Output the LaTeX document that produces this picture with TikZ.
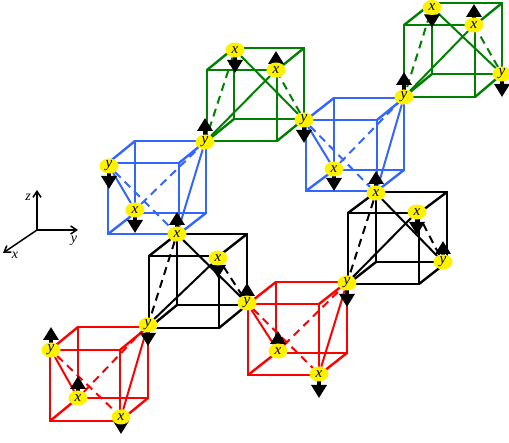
\documentclass[tikz,border=0pt]{standalone}
\usepackage{fontspec}
\setmainfont{Liberation Serif}
\usetikzlibrary{arrows.meta,backgrounds,shapes.geometric}
\definecolor{mygreen}{RGB}{0,128,0}
\definecolor{myblue}{RGB}{51,102,255}
\tikzset{
  site/.style={ellipse,fill=yellow,inner sep=0pt,minimum width=19pt,minimum height=15pt,font=\itshape\fontsize{15}{15}\selectfont},
  frameedge/.style={line width=2.4pt,line join=round,line cap=round},
  edge/.style={line width=2.0pt,line join=round},
  dashededge/.style={line width=2.0pt,dash pattern=on 8pt off 5.5pt},
  spin/.style={line width=3.6pt,black,-{Triangle[width=15pt,length=13pt]}},
  axis/.style={line width=1.5pt,black,-{Straight Barb[length=6pt,width=8pt]}},
  axlabel/.style={font=\itshape\fontsize{14}{14}\selectfont,inner sep=0pt}
}
% front x1 y1 x2 y2, back x1 y1 x2 y2
\newcommand{\cubeframe}[9]{%
  \draw[frameedge,#1] (#2,#3) -- (#4,#3) -- (#4,#5) -- (#2,#5) -- cycle;
  \draw[frameedge,#1] (#6,#7) -- (#8,#7) -- (#8,#9) -- (#6,#9) -- cycle;
  \draw[frameedge,#1] (#2,#3) -- (#6,#7);
  \draw[frameedge,#1] (#4,#3) -- (#8,#7);
  \draw[frameedge,#1] (#2,#5) -- (#6,#9);
  \draw[frameedge,#1] (#4,#5) -- (#8,#9);
}
\newcommand{\tetra}[5]{%
  \draw[edge,#1] (#2) -- (#3);
  \draw[dashededge,#1] (#2) -- (#4);
  \draw[edge,#1] (#4) -- (#5);
  \draw[dashededge,#1] (#3) -- (#5);
}
\newcommand{\spinup}[2]{\draw[spin] (#1.center) -- ++(0,-#2);}
\newcommand{\spindown}[2]{\draw[spin] (#1.center) -- ++(0,#2);}
\begin{document}
\begin{tikzpicture}[x=1pt,y=-1pt]
\useasboundingbox (0,0) rectangle (509,443);
% axes
\coordinate (o) at (37,230);
\node[axlabel] (lz) at (28,197) {z};
\node[axlabel] (ly) at (74,241) {y};
\node[axlabel] (lx) at (15,255) {x};
\coordinate (ze) at (37,190);
\coordinate (ye) at (78,230);
\coordinate (xe) at (3,253);
\draw[axis] (o) -- (ze);
\draw[axis] (o) -- (ye);
\draw[axis] (o) -- (xe);
% sites
\node[site] (r1a) at (51,350) {y};
\node[site] (r1b) at (78,398) {x};
\node[site] (r1c) at (121,417) {x};
\node[site] (s1) at (148,325) {y};
\node[site] (k1b) at (177,234) {x};
\node[site] (k1c) at (218,258) {x};
\node[site] (s2) at (247,303) {y};
\node[site] (r2b) at (278,351) {x};
\node[site] (r2c) at (319,374) {x};
\node[site] (s3) at (347,283) {y};
\node[site] (k2b) at (376,193) {x};
\node[site] (k2c) at (417,212) {x};
\node[site] (k2a) at (443,262) {y};
\node[site] (b1a) at (109,166) {y};
\node[site] (b1b) at (135,210) {x};
\node[site] (s4) at (205,142) {y};
\node[site] (g1b) at (235,50) {x};
\node[site] (g1c) at (276,70) {x};
\node[site] (s5) at (304,120) {y};
\node[site] (b2b) at (334,169) {x};
\node[site] (s6) at (404,97) {y};
\node[site] (g2b) at (432,7.5) {x};
\node[site] (g2c) at (474,25) {x};
\node[site] (g2a) at (502,74) {y};
\begin{scope}[on background layer]
\cubeframe{mygreen}{404}{25}{475}{97}{432}{3}{502}{74}
\tetra{mygreen}{g2a}{g2b}{g2c}{s6}
\cubeframe{mygreen}{207}{70}{277}{141}{234}{48}{304}{119}
\tetra{mygreen}{s5}{g1b}{g1c}{s4}
\cubeframe{myblue}{306}{120}{377}{191}{334}{98}{404}{170}
\tetra{myblue}{s5}{b2b}{k2b}{s6}
\cubeframe{myblue}{108}{163}{179}{234}{135}{141}{206}{213}
\tetra{myblue}{b1a}{b1b}{k1b}{s4}
\cubeframe{black}{348}{213}{419}{284}{376}{192}{447}{262}
\tetra{black}{k2a}{k2b}{k2c}{s3}
\cubeframe{black}{149}{256}{219}{328}{177}{234}{247}{305}
\tetra{black}{s2}{k1b}{k1c}{s1}
\cubeframe{red}{248}{304}{319}{375}{276}{282}{347}{353}
\tetra{red}{s2}{r2b}{r2c}{s3}
\cubeframe{red}{50}{350}{120}{421}{78}{327}{148}{398}
\tetra{red}{r1a}{r1b}{r1c}{s1}
\spinup{r1a}{23}
\spinup{r1b}{22}
\spindown{r1c}{17}
\spindown{s1}{21}
\spinup{k1b}{22}
\spindown{k1c}{20}
\spinup{s2}{20}
\spinup{r2b}{20}
\spindown{r2c}{24}
\spindown{s3}{24}
\spinup{k2b}{22}
\spindown{k2c}{23}
\spinup{k2a}{21}
\spindown{b1a}{23}
\spindown{b1b}{23}
\spinup{s4}{24}
\spindown{g1b}{23}
\spinup{g1c}{19}
\spindown{s5}{23}
\spindown{b2b}{22}
\spinup{s6}{25}
\spindown{g2b}{20}
\spinup{g2c}{21}
\spindown{g2a}{23}
\end{scope}
\end{tikzpicture}
\end{document}
